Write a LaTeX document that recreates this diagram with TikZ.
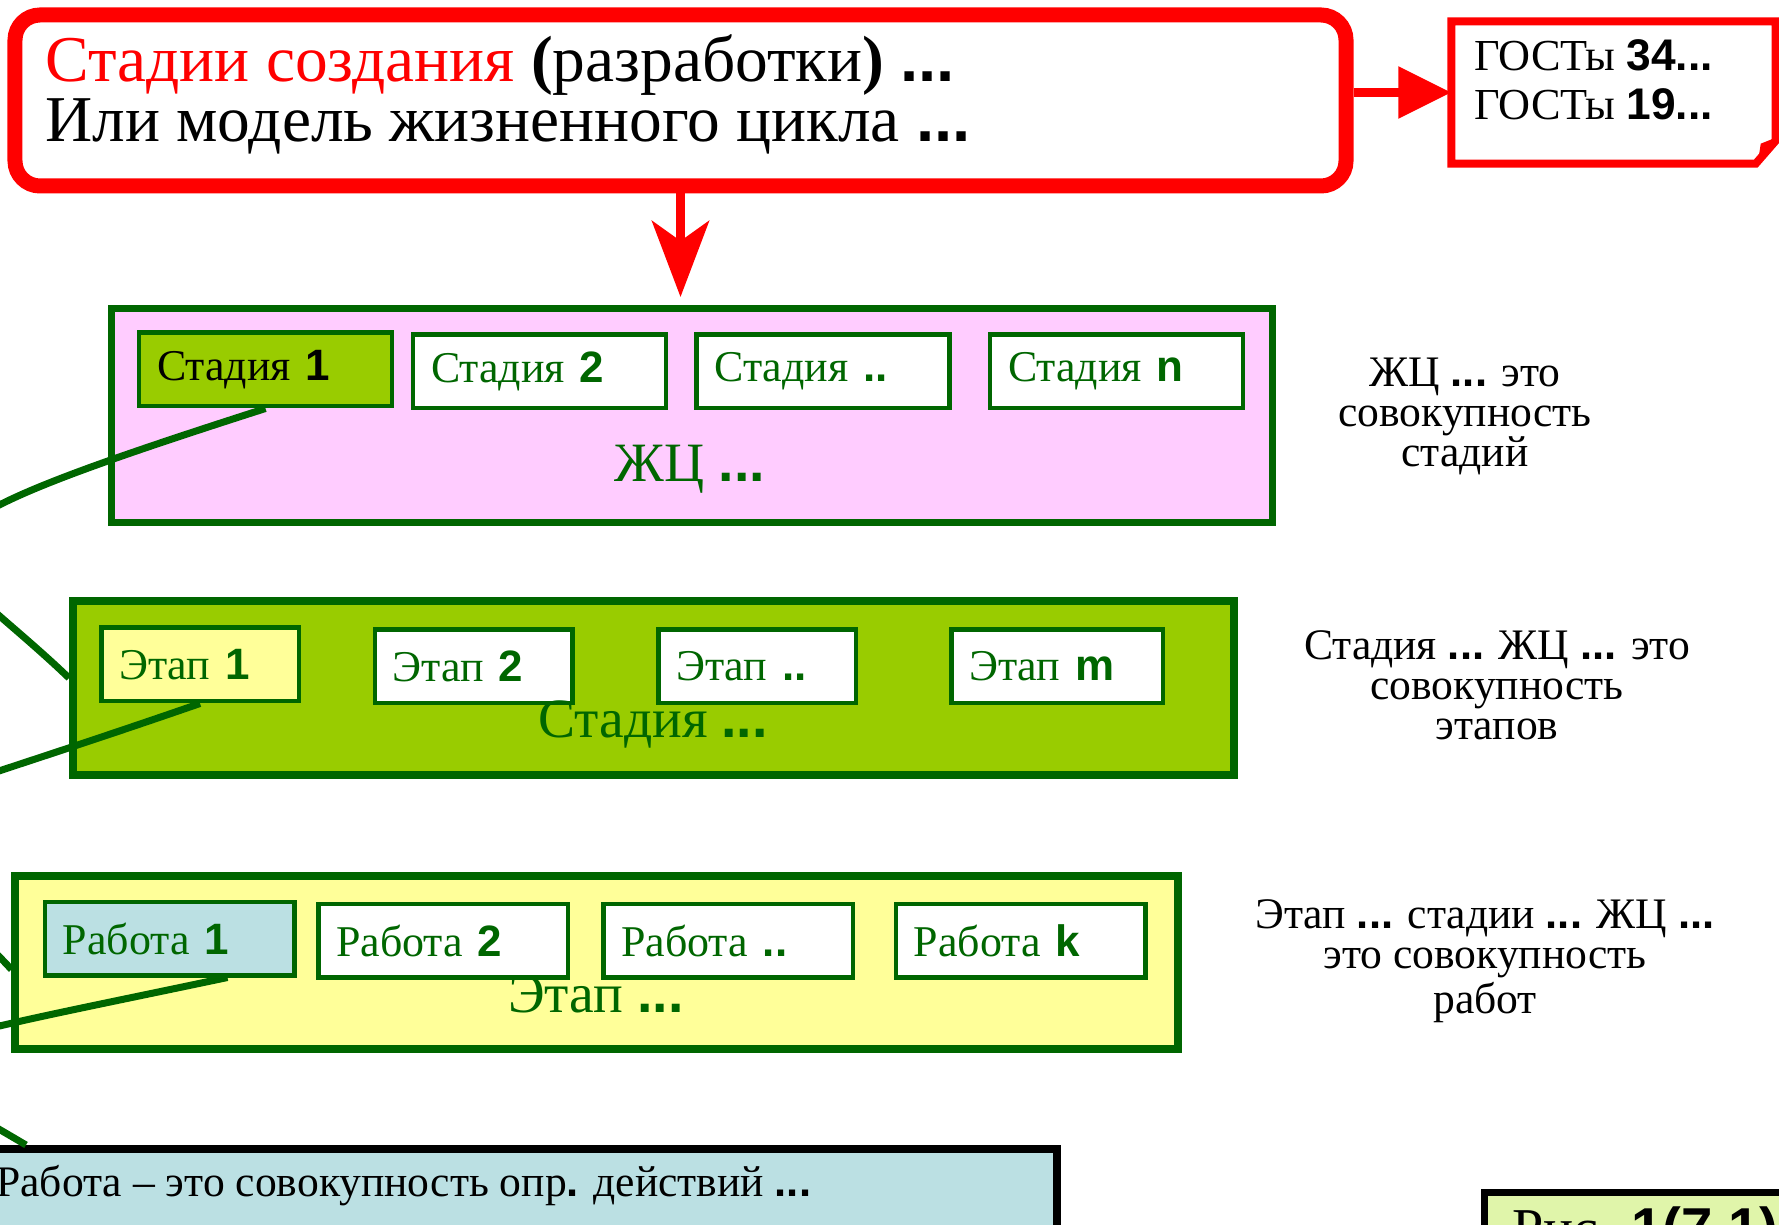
\documentclass[tikz,border=0pt]{standalone}
\usepackage{fontspec}
\setmainfont{Liberation Serif}
\setsansfont{Liberation Sans}
\usetikzlibrary{arrows.meta, calc}

\definecolor{dkgreen}{HTML}{006600}
\definecolor{lime}{HTML}{99CC00}
\definecolor{lcpink}{HTML}{FFCCFF}
\definecolor{paleyel}{HTML}{FFFF99}
\definecolor{paleblue}{RGB}{187,224,227}
\definecolor{palelime}{RGB}{224,245,170}

\newcommand{\bsf}[1]{{\sffamily\bfseries #1}}
\newcommand{\fsz}[2]{\fontsize{#1}{#2}\selectfont}

\begin{document}
\begin{tikzpicture}[
  redbox/.style={draw=red, line width=0.15cm, rounded corners=0.25cm, fill=white},
  outer/.style={draw=dkgreen, line width=0.075cm, minimum width=11.61cm},
  stbox/.style={draw=dkgreen, line width=0.045cm, fill=white, text=dkgreen,
    minimum height=0.735cm, inner xsep=0.18cm, inner ysep=0pt, align=left,
    font=\fsz{12.5}{14}},
  biglabel/.style={text=dkgreen, font=\fsz{15.8}{17}, anchor=base},
  note/.style={align=center, anchor=base, font=\fsz{12.4}{11.4}},
  link/.style={draw=dkgreen, line width=0.07cm},
  redarr/.style={draw=red, line width=0.09cm},
]
\useasboundingbox (0,0) rectangle (17.79,-12.25);
\clip (0,0) rectangle (17.79,-12.25);

%% HEADER — title box and the GOST note
\node[redbox, minimum width=13.31cm, minimum height=1.71cm] (head) at (6.805,-1.005) {};
\node[anchor=base west, align=left, font=\fsz{18.6}{17.2}] (title) at (0.33,-1.42)
  {\textcolor{red}{Стадии создания} \textbf{(}разработки\textbf{)} \bsf{...}\\
   Или модель жизненного цикла \bsf{...}};

\node[minimum width=3.23cm, minimum height=1.41cm] (gost) at (16.135,-0.925) {};
\draw[red, line width=0.08cm, fill=white]
  (gost.north west) -- (gost.north east) -- ($(gost.south east)+(0,0.23)$)
  -- ($(gost.south east)+(-0.2,0)$) -- (gost.south west) -- cycle;
\fill[red] ($(gost.south east)+(-0.18,0)$) -- ($(gost.south east)+(-0.15,0.2)$)
  -- ($(gost.south east)+(0,0.26)$) -- cycle;
\node[anchor=base west, align=left, font=\fsz{12.6}{14.2}] (gosttext) at (14.62,-1.20)
  {ГОСТы \bsf{34...}\\ГОСТы \bsf{19...}};

\draw[redarr, -{Triangle[length=0.53cm, width=0.5cm]}]
  (head.east |- gost.west) -- (gost.west);

%% ROW 1 — life cycle as a set of stages
\node[outer, fill=lcpink, minimum height=2.14cm, line width=0.07cm] (lc) at (6.92,-4.155) {};
\draw[redarr, -{Stealth[length=0.76cm, width=0.57cm, inset=0.2cm]}, shorten >=0.08cm]
  (head.south) -- (head.south |- lc.north);

\node[stbox, fill=lime, text=black, text width=2.17cm] (st1) at (2.655,-3.695) {Стадия \bsf{1}};
\node[stbox, text width=2.17cm] (st2) at (5.395,-3.715) {Стадия \bsf{2}};
\node[stbox, text width=2.17cm] (st3) at (8.23,-3.715)  {Стадия \bsf{..}};
\node[stbox, text width=2.17cm] (st4) at (11.165,-3.715) {Стадия \bsf{n}};
\node[biglabel] (lclabel) at (6.90,-4.82) {ЖЦ \bsf{...}};

%% ROW 2 — stage as a set of phases
\node[outer, fill=lime, minimum height=1.74cm, line width=0.08cm] (stagebox) at (6.535,-6.88) {};
\node[stbox, fill=paleyel, text width=1.615cm] (ph1) at (2.0,-6.645)   {Этап \bsf{1}};
\node[stbox, text width=1.615cm] (ph2) at (4.735,-6.665) {Этап \bsf{2}};
\node[stbox, text width=1.615cm] (ph3) at (7.57,-6.665)  {Этап \bsf{..}};
\node[stbox, text width=1.755cm] (ph4) at (10.57,-6.665) {Этап \bsf{m}};
\node[biglabel] (stlabel) at (6.53,-7.37) {Стадия \bsf{...}};

%% ROW 3 — phase as a set of works
\node[outer, fill=paleyel, minimum width=11.625cm, minimum height=1.73cm, line width=0.08cm]
  (phasebox) at (5.9675,-9.625) {};
\node[stbox, fill=paleblue, text width=2.135cm] (wk1) at (1.695,-9.385) {Работа \bsf{1}};
\node[stbox, text width=2.135cm] (wk2) at (4.43,-9.405)  {Работа \bsf{2}};
\node[stbox, text width=2.135cm] (wk3) at (7.28,-9.405)  {Работа \bsf{..}};
\node[stbox, text width=2.135cm] (wk4) at (10.205,-9.405) {Работа \bsf{k}};
\node[biglabel] (phlabel) at (5.96,-10.12) {Этап \bsf{...}};

%% ROW 4 — work definition and figure tag
\node[draw=black, line width=0.08cm, fill=paleblue, minimum width=11.07cm, minimum height=1.01cm]
  (def) at (5.035,-11.995) {};
\node[anchor=base west, font=\fsz{12.4}{15}] (deftext) at (-0.16,-11.96)
  {Работа – это совокупность опр\bsf{.} действий \bsf{...}};

\node[draw=black, line width=0.07cm, fill=palelime, minimum width=3.5cm, minimum height=1cm,
  anchor=north west] (fig) at (14.81,-11.885) {};
\node[anchor=base west, font=\fsz{16}{18}] (figtext) at (15.00,-12.47) {Рис. \bsf{1(7.1)}};

%% side notes
\node[note] (lcnote) at (14.65,-4.67) {ЖЦ \bsf{...} это\\совокупность\\стадий};
\node[note] (stnote) at (14.97,-7.40) {Стадия \bsf{...} ЖЦ \bsf{...} это\\совокупность\\этапов};
\node[note] (phnote) at (14.85,-10.13) {Этап \bsf{...} стадии \bsf{...} ЖЦ \bsf{...}\\это совокупность\\работ};

%% links: first item of each level -> the box of the next level
\draw[link] (st1.south) .. controls (-1.63,-5.46) and (-0.75,-5.40) .. ($(stagebox.west)+(0,0.1)$);
\draw[link] (ph1.south) .. controls (-2.72,-8.67) and (-1.58,-7.86) .. ($(phasebox.west)+(0,-0.07)$);
\draw[link] ($(wk1.south)+(0.58,0)$) .. controls (-1.64,-10.60) and (-1.44,-10.44) .. ($(def.north west)+(0.8,0)$);

\end{tikzpicture}
\end{document}
